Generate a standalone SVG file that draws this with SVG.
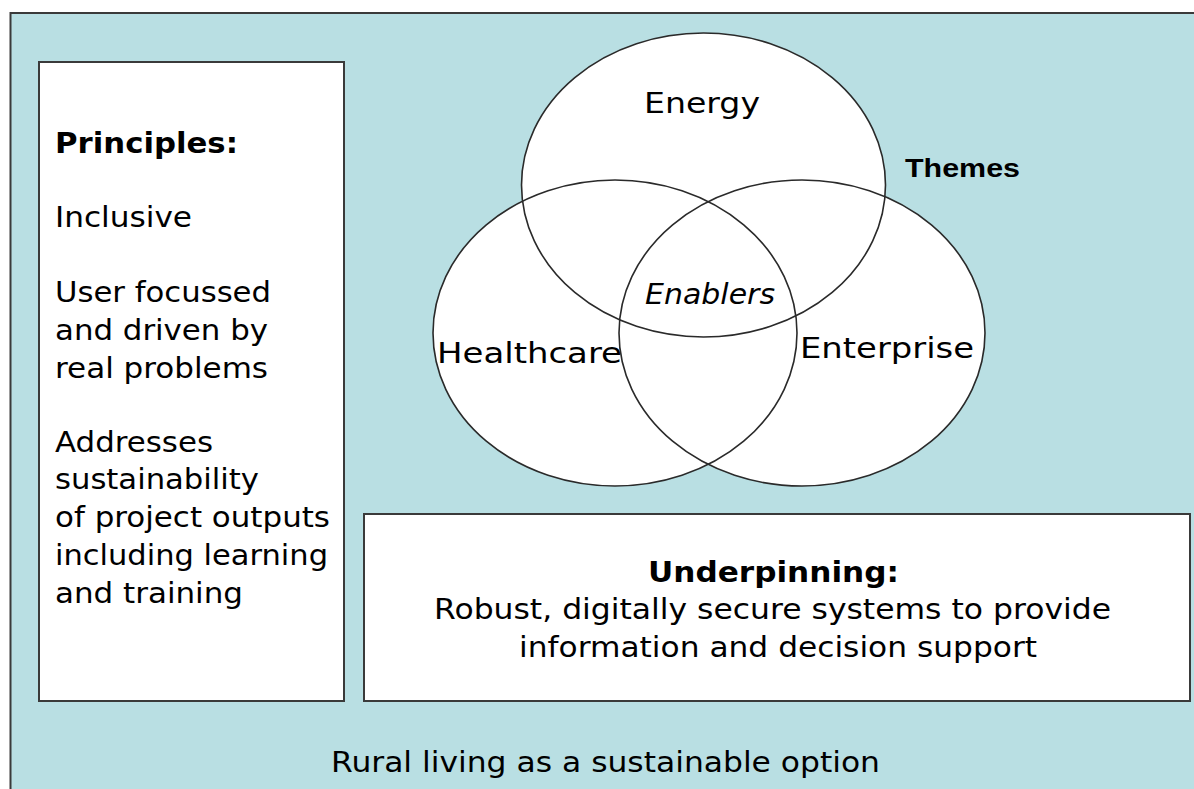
<svg xmlns="http://www.w3.org/2000/svg" width="1194" height="789" viewBox="0 0 1194 789">
<style>
.box{fill:#ffffff;stroke:#3a3a3a;stroke-width:2}
.fillw{fill:#ffffff;stroke:none}
.ring{fill:none;stroke:#2a2a2a;stroke-width:1.6}
.t{font-family:"DejaVu Sans",Verdana,sans-serif;font-size:28px;fill:#000}
.b{font-weight:bold}
.i{font-style:italic}
.th{font-family:"Liberation Sans",Arial,sans-serif;font-size:25px;font-weight:bold;fill:#000}
</style>
<rect width="1194" height="789" fill="#ffffff"/>
<g id="background">
<rect x="10.5" y="13" width="1200" height="800" fill="#b9dfe3" stroke="#3a3a3a" stroke-width="2"/>
<text class="t" x="331" y="772" textLength="549" lengthAdjust="spacingAndGlyphs">Rural living as a sustainable option</text>
</g>
<g id="principles">
<rect class="box" x="39" y="62" width="305" height="639"/>
<text class="t b" x="55" y="153" textLength="183" lengthAdjust="spacingAndGlyphs">Principles:</text>
<text class="t" x="55" y="227" textLength="137" lengthAdjust="spacingAndGlyphs">Inclusive</text>
<text class="t" x="55" y="302" textLength="216" lengthAdjust="spacingAndGlyphs">User focussed</text>
<text class="t" x="55" y="340" textLength="213" lengthAdjust="spacingAndGlyphs">and driven by</text>
<text class="t" x="55" y="378" textLength="213" lengthAdjust="spacingAndGlyphs">real problems</text>
<text class="t" x="55" y="452" textLength="158" lengthAdjust="spacingAndGlyphs">Addresses</text>
<text class="t" x="55" y="489" textLength="204" lengthAdjust="spacingAndGlyphs">sustainability</text>
<text class="t" x="55" y="527" textLength="275" lengthAdjust="spacingAndGlyphs">of project outputs</text>
<text class="t" x="55" y="565" textLength="273" lengthAdjust="spacingAndGlyphs">including learning</text>
<text class="t" x="55" y="603" textLength="188" lengthAdjust="spacingAndGlyphs">and training</text>
</g>
<g id="underpinning">
<rect class="box" x="364" y="514" width="826" height="187"/>
<text class="t b" x="648" y="582" textLength="251" lengthAdjust="spacingAndGlyphs">Underpinning:</text>
<text class="t" x="434" y="619" textLength="677" lengthAdjust="spacingAndGlyphs">Robust, digitally secure systems to provide</text>
<text class="t" x="519" y="657" textLength="518" lengthAdjust="spacingAndGlyphs">information and decision support</text>
</g>
<g id="venn">
<ellipse class="fillw" cx="703.5" cy="185" rx="182" ry="152"/>
<ellipse class="fillw" cx="615" cy="333" rx="182" ry="153"/>
<ellipse class="fillw" cx="802" cy="333" rx="183" ry="153"/>
<g id="energy">
<ellipse class="ring" cx="703.5" cy="185" rx="182" ry="152"/>
<text class="t" x="644" y="113" textLength="116" lengthAdjust="spacingAndGlyphs">Energy</text>
</g>
<g id="healthcare">
<ellipse class="ring" cx="615" cy="333" rx="182" ry="153"/>
<text class="t" x="437" y="363" textLength="185" lengthAdjust="spacingAndGlyphs">Healthcare</text>
</g>
<g id="enterprise">
<ellipse class="ring" cx="802" cy="333" rx="183" ry="153"/>
<text class="t" x="800" y="358" textLength="174" lengthAdjust="spacingAndGlyphs">Enterprise</text>
</g>
<g id="enablers">
<text class="t i" x="645" y="304" textLength="130" lengthAdjust="spacingAndGlyphs">Enablers</text>
</g>
</g>
<g id="themes">
<text class="th" x="905" y="177" textLength="115" lengthAdjust="spacingAndGlyphs">Themes</text>
</g>
<g id="connectors"/>
</svg>
